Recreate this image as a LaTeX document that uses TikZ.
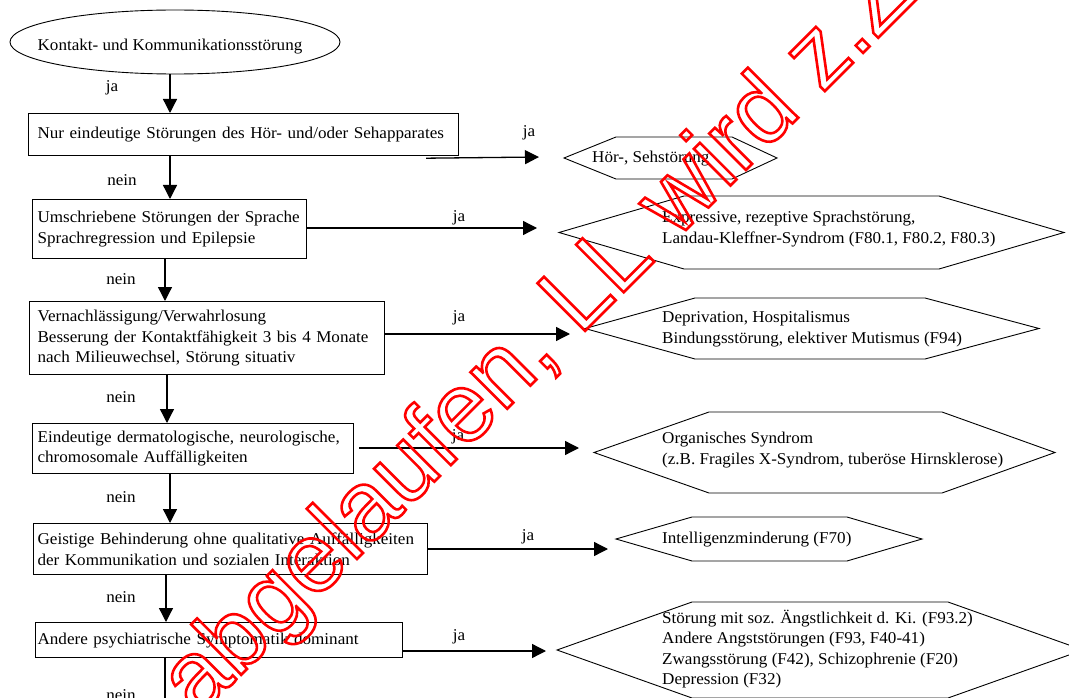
\documentclass[tikz,border=0pt]{standalone}
\usepackage{fontspec}
\setmainfont[FakeStretch=1.035]{Liberation Serif}
\newfontfamily\wmfont{Liberation Sans}
\usetikzlibrary{shapes.geometric,arrows.meta}

% hexagon outline: name, left tip x, left corner x, right corner x, right tip x, top y, bottom y
\newcommand{\hexoutline}[7]{%
  \coordinate (#1-w) at (#2,{(#6+#7)/2});
  \draw[hexline] (#1-w) -- (#3,#6) -- (#4,#6) -- (#5,{(#6+#7)/2}) -- (#4,#7) -- (#3,#7) -- cycle;}

\begin{document}
\begin{tikzpicture}[x=1pt,y=-1pt,
  every node/.style={font=\fontsize{16.5}{20.5}\selectfont},
  box/.style={draw,line width=1.2pt,anchor=north west,inner ysep=0pt,align=left},
  hexline/.style={line width=0.9pt},
  hextext/.style={anchor=west,inner sep=0pt,align=left},
  conn/.style={line width=1.3pt,-{Triangle[length=14pt,width=14pt]}},
  lbl/.style={inner sep=0pt},
]
\useasboundingbox (0,0) rectangle (1069,698);

% start ellipse
\node[ellipse,draw,line width=0.9pt,minimum width=330pt,minimum height=64pt,inner sep=0pt] (e0) at (175,42)
  {\makebox[0pt]{\hspace*{-10pt}\raisebox{-9pt}[0pt][0pt]{Kontakt- und Kommunikationsstörung}}};

% decision boxes (one unbreakable line per row)
\node[box,inner xsep=9pt,text width=412pt,minimum height=42pt] (r1) at (28,113) {\mbox{Nur eindeutige Störungen des Hör- und/oder Sehapparates}};
\node[box,inner xsep=5pt,text width=264pt,minimum height=59pt] (r2) at (32,199) {\mbox{Umschriebene Störungen der Sprache}\\\mbox{Sprachregression und Epilepsie}};
\node[box,inner xsep=8pt,text width=339pt,minimum height=73pt] (r3) at (29,301) {\mbox{Vernachlässigung/Verwahrlosung}\\\mbox{Besserung der Kontaktfähigkeit 3 bis 4 Monate}\\\mbox{nach Milieuwechsel, Störung situativ}};
\node[box,inner xsep=5pt,text width=311pt,minimum height=50pt] (r4) at (32,423) {\mbox{Eindeutige dermatologische, neurologische,}\\\mbox{chromosomale Auffälligkeiten}};
\node[box,inner xsep=4pt,text width=386pt,minimum height=51pt] (r5) at (33,523) {\mbox{Geistige Behinderung ohne qualitative Auffälligkeiten}\\\mbox{der Kommunikation und sozialen Interaktion}};
\node[box,inner xsep=2pt,text width=363pt,minimum height=35pt] (r6) at (35,622) {\mbox{Andere psychiatrische Symptomatik dominant}};

% diagnosis hexagons
\hexoutline{h1}{564}{616}{732}{777}{137}{179}
\hexoutline{h2}{559}{684}{939}{1064}{196}{269}
\hexoutline{h3}{585}{695}{925}{1039}{298}{359}
\hexoutline{h4}{594}{709}{942}{1055}{412}{493}
\hexoutline{h5}{616}{692}{847}{922}{517}{561}
\hexoutline{h6}{557}{692}{948}{1083}{602}{698}

\node[hextext] (d1) at (592,159) {Hör-, Sehstörung};
\node[hextext] (d2) at (662,229) {Expressive, rezeptive Sprachstörung,\\Landau-Kleffner-Syndrom (F80.1, F80.2, F80.3)};
\node[hextext] (d3) at (662,329) {Deprivation, Hospitalismus\\Bindungsstörung, elektiver Mutismus (F94)};
\node[hextext] (d4) at (662,450) {Organisches Syndrom\\(z.B. Fragiles X-Syndrom, tuberöse Hirnsklerose)};
\node[hextext] (d5) at (662,540) {Intelligenzminderung (F70)};
\node[hextext] (d6) at (662,649) {Störung mit soz. Ängstlichkeit d. Ki. (F93.2)\\Andere Angststörungen (F93, F40-41)\\Zwangsstörung (F42), Schizophrenie (F20)\\Depression (F32)};

% vertical "nein" spine
\coordinate (v1) at (170,0);
\coordinate (v2) at (170,0);
\coordinate (v3) at (165,0);
\coordinate (v4) at (167,0);
\coordinate (v5) at (170,0);
\coordinate (v6) at (166,0);
\coordinate (v7) at (165,702);
\draw[conn] (e0.south -| v1) -- (r1.north -| v1);
\draw[conn] (r1.south -| v2) -- (r2.north -| v2);
\draw[conn] (r2.south -| v3) -- (r3.north -| v3);
\draw[conn] (r3.south -| v4) -- (r4.north -| v4);
\draw[conn] (r4.south -| v5) -- (r5.north -| v5);
\draw[conn] (r5.south -| v6) -- (r6.north -| v6);
\draw[line width=1.3pt] (r6.south -| v7) -- (v7);

% horizontal "ja" arrows
\coordinate (t1) at (539,157);
\coordinate (t2) at (537,228);
\coordinate (t3) at (570,334);
\coordinate (t4) at (579,448);
\coordinate (t5) at (608,549);
\coordinate (t6) at (546,651);
\coordinate (s1) at ([xshift=-33pt,yshift=-2pt]r1.south east);
\path (r4.east |- t4) ++(5,0) coordinate (s4);
\draw[conn] (s1) -- (t1);
\draw[conn] (r2.east |- t2) -- (t2);
\draw[conn] (r3.east |- t3) -- (t3);
\draw[conn] (s4) -- (t4);
\draw[conn] (r5.east |- t5) -- (t5);
\draw[conn] (r6.east |- t6) -- (t6);

% branch labels
\node[lbl] (j0) at (112,88) {ja};
\node[lbl] (j1) at (529,133) {ja};
\node[lbl] (j2) at (459,218) {ja};
\node[lbl] (j3) at (459,318) {ja};
\node[lbl] (j4) at (458,437) {ja};
\node[lbl] (j5) at (528,537) {ja};
\node[lbl] (j6) at (459,637) {ja};
\node[lbl] (n1) at (122,180) {nein};
\node[lbl] (n2) at (121,279) {nein};
\node[lbl] (n3) at (121,397) {nein};
\node[lbl] (n4) at (121,497) {nein};
\node[lbl] (n5) at (121,597) {nein};
\node[lbl] (n6) at (121,695) {nein};

% outlined red stamp across the chart
\node[rotate=45,anchor=base west,inner sep=0pt,text=red,font=\wmfont\fontsize{98}{98}\selectfont] (wm) at (198,718)
  {\special{pdf:literal direct q 1 Tr 2.6 w}abgelaufen, LL wird z.Z\special{pdf:literal direct Q}};
\end{tikzpicture}
\end{document}
